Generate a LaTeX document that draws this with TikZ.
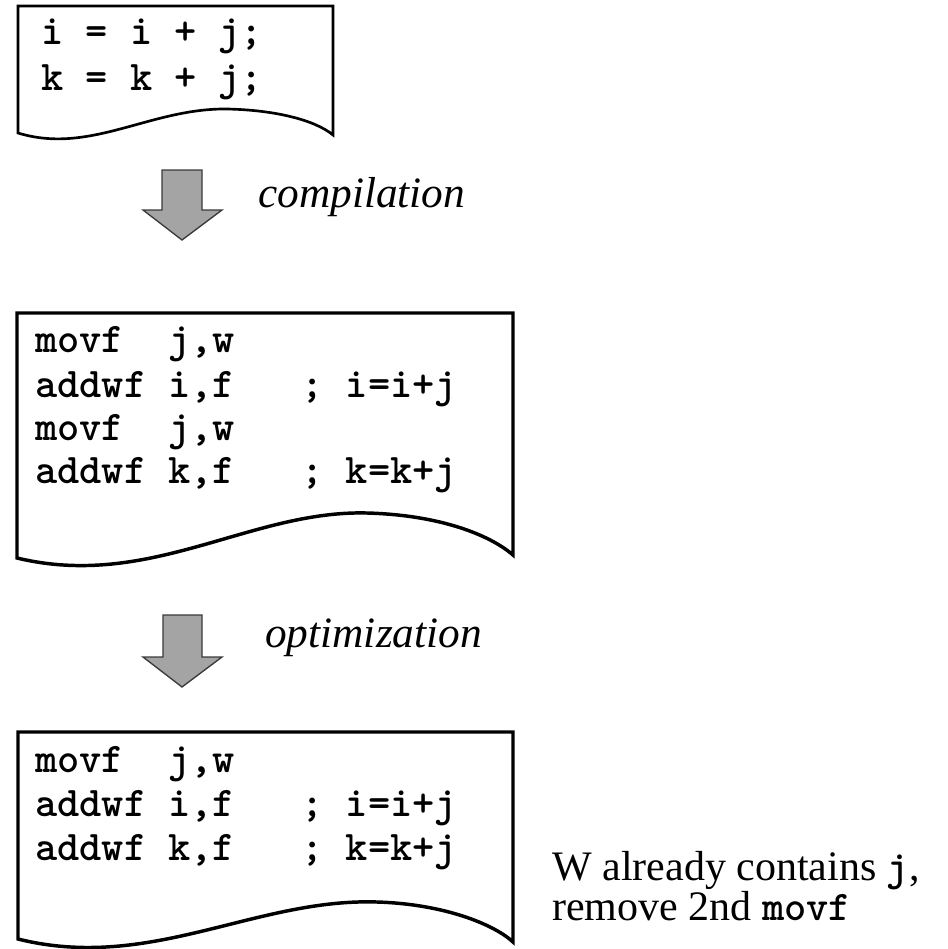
\documentclass[tikz,border=0pt]{standalone}
\usepackage{fontspec}
\setmainfont{Liberation Serif}
\newcommand\codef{\ttfamily\bfseries\fontsize{31.7}{38}\selectfont}
\definecolor{arrowfill}{HTML}{A4A4A4}
\definecolor{arrowline}{HTML}{3A3A3A}
\begin{document}
\begin{tikzpicture}[x=0.75pt,y=-0.75pt,
  docthin/.style={draw=black,line width=2pt,line join=miter},
  docthick/.style={draw=black,line width=2.6pt,line join=miter},
  blockarrow/.style={fill=arrowfill,draw=arrowline,line width=1pt,line join=miter},
  codeline/.style={anchor=base west,inner sep=0pt,font=\codef},
  steplabel/.style={anchor=base west,inner sep=0pt,font=\itshape\fontsize{32.5}{39}\selectfont},
  notetext/.style={anchor=base west,inner sep=0pt,font=\fontsize{31.5}{38}\selectfont}]
\useasboundingbox (0,0) rectangle (947,949);

% document 1
\draw[docthin] (18,133) -- (18,6) -- (333,6) -- (333,135)
  .. controls (315,120) and (275,110) .. (227,109)
  .. controls (150,108) and (90,155) .. (18,133) -- cycle;
\node[codeline] (s1) at (41,45) {i = i + j;};
\node[codeline] (s2) at (41,90) {k = k + j;};

% arrow 1
\draw[blockarrow] (162,170) -- (202,170) -- (202,210) -- (222,210) -- (182,240) -- (143,210) -- (162,210) -- cycle;
\node[steplabel] (comp) at (258,207) {compilation};

% document 2
\draw[docthick] (17,558) -- (17,313) -- (513,313) -- (513,555)
  .. controls (490,535) and (440,515) .. (367,513)
  .. controls (250,510) and (150,590) .. (17,558) -- cycle;
\node[codeline] (a1) at (35,352) {movf\ \ j,w};
\node[codeline] (a2) at (35,397) {addwf i,f\ \ \ ; i=i+j};
\node[codeline] (a3) at (35,440) {movf\ \ j,w};
\node[codeline] (a4) at (35,483) {addwf k,f\ \ \ ; k=k+j};

% arrow 2
\draw[blockarrow] (163,615) -- (202,615) -- (202,657) -- (222,657) -- (182,687) -- (143,657) -- (163,657) -- cycle;
\node[steplabel] (opt) at (265,647) {optimization};

% document 3
\draw[docthick] (18,939) -- (18,732) -- (513,732) -- (513,942)
  .. controls (495,925) and (445,904) .. (377,902)
  .. controls (255,898) and (150,972) .. (18,939) -- cycle;
\node[codeline] (b1) at (35,772) {movf\ \ j,w};
\node[codeline] (b2) at (35,816) {addwf i,f\ \ \ ; i=i+j};
\node[codeline] (b3) at (35,860) {addwf k,f\ \ \ ; k=k+j};

% note
\node[notetext] (n1) at (552,880) {W already contains {\codef j},};
\node[notetext] (n2) at (552,920) {remove 2nd {\codef movf}};
\end{tikzpicture}
\end{document}
